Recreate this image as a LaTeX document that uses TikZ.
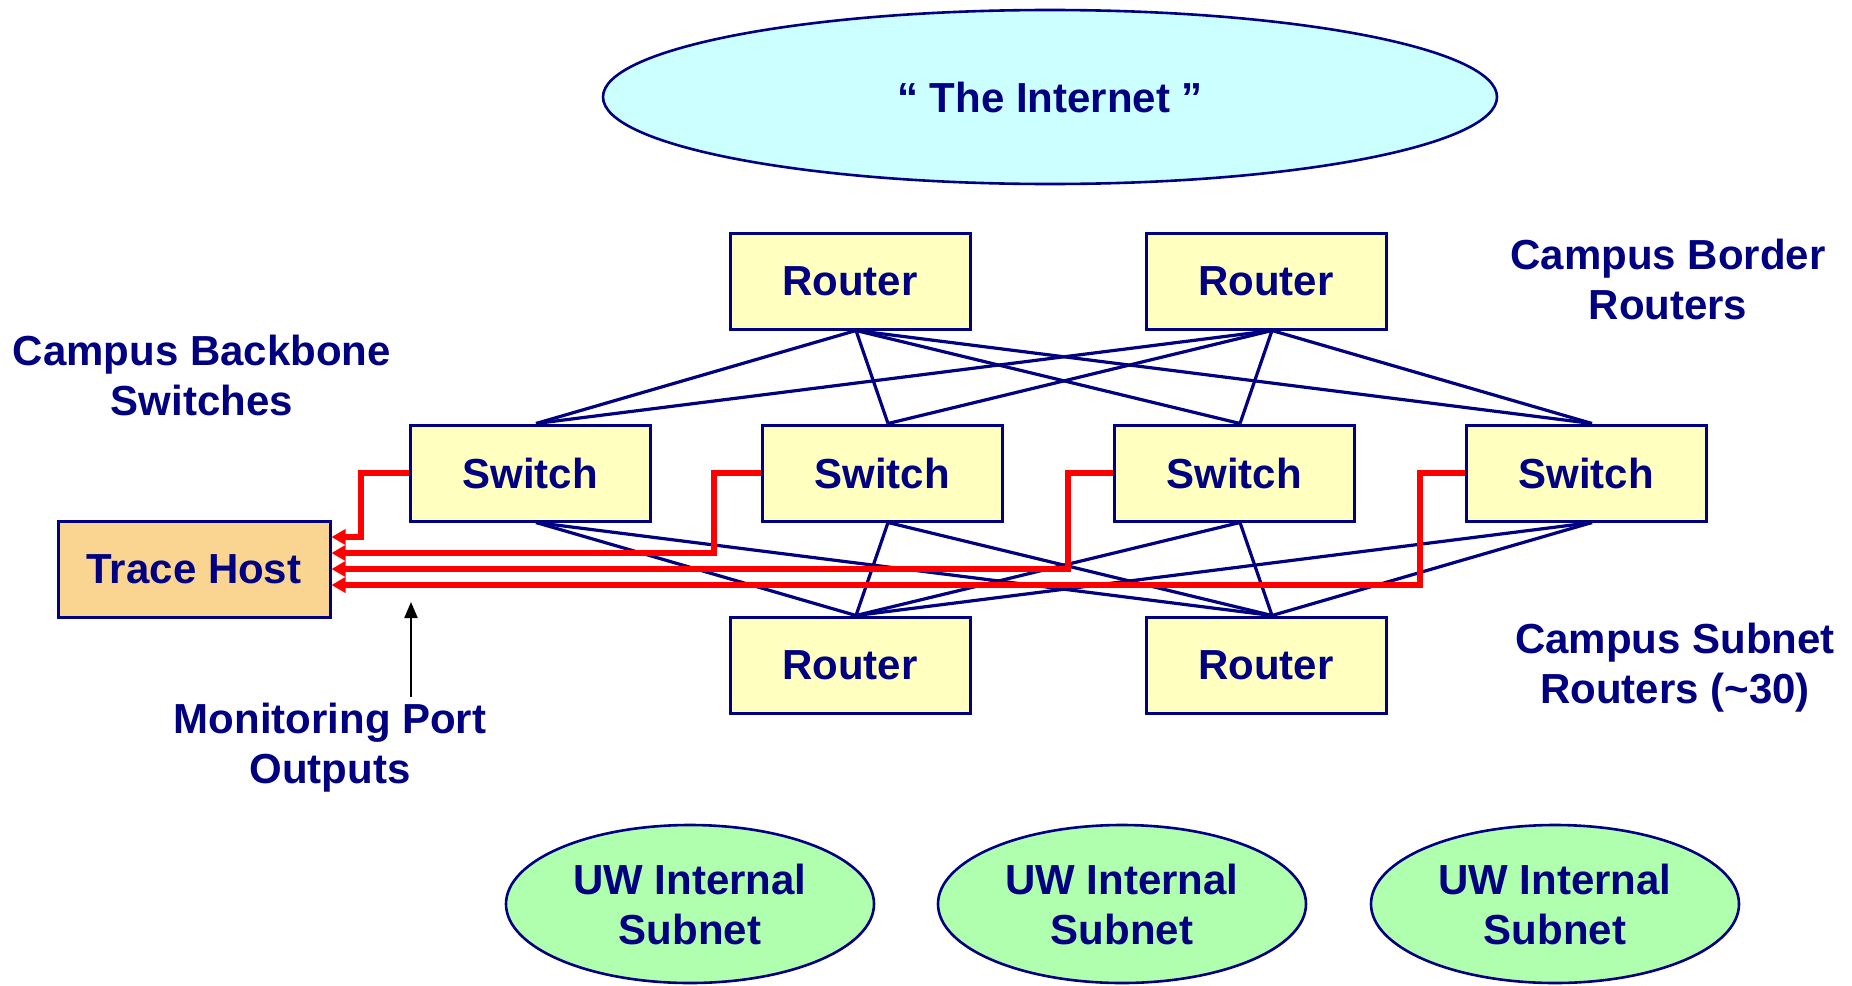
\documentclass[tikz,border=0pt]{standalone}
\usepackage{fontspec}
\setmainfont{Liberation Sans}
\usetikzlibrary{shapes.geometric,arrows.meta}
\definecolor{navy}{HTML}{000080}
\definecolor{boxfill}{HTML}{FFFFC0}
\definecolor{hostfill}{HTML}{F9D591}
\definecolor{netfill}{HTML}{CCFFFF}
\definecolor{subfill}{HTML}{AFFFAF}
\definecolor{mred}{HTML}{FF0000}
\tikzset{
  lbl/.style={text=navy,font=\fontsize{21}{25}\selectfont\bfseries,align=center,inner sep=0pt},
  devbox/.style={draw=navy,line width=1.5pt,fill=boxfill,minimum width=120pt,minimum height=48pt,inner sep=0pt,lbl},
  hostbox/.style={devbox,fill=hostfill,minimum width=136pt},
  cloud/.style={ellipse,draw=navy,line width=1.3pt,inner sep=0pt,lbl},
  link/.style={draw=navy,line width=1.6pt},
  mon/.style={draw=mred,line width=2.8pt,-{Triangle[length=7pt,width=7.5pt]}},
  pointer/.style={draw=black,line width=1.1pt,-{Triangle[length=8pt,width=6.5pt]}}
}
\begin{document}
\begin{tikzpicture}[x=0.5pt,y=-0.5pt]
\useasboundingbox (0,0) rectangle (1852,985);
% internet
\node[cloud,fill=netfill,minimum width=447pt,minimum height=87pt] (inet) at (1050,97) {“ The Internet ”};
% top routers
\node[devbox] (r1) at (850,281) {Router};
\node[devbox] (r2) at (1266,281) {Router};
% switches
\node[devbox] (s1) at (530,473) {Switch};
\node[devbox] (s2) at (882,473) {Switch};
\node[devbox] (s3) at (1234,473) {Switch};
\node[devbox] (s4) at (1586,473) {Switch};
% bottom routers
\node[devbox] (b1) at (850,665) {Router};
\node[devbox] (b2) at (1266,665) {Router};
% trace host
\node[hostbox] (th) at (194,569) {Trace Host};
% subnets
\node[cloud,fill=subfill,minimum width=184pt,minimum height=79pt] (n1) at (690,904) {UW Internal\\Subnet};
\node[cloud,fill=subfill,minimum width=184pt,minimum height=79pt] (n2) at (1122,904) {UW Internal\\Subnet};
\node[cloud,fill=subfill,minimum width=184pt,minimum height=79pt] (n3) at (1555,904) {UW Internal\\Subnet};
% labels
\node[lbl] (lborder) at (1668,279) {Campus Border\\Routers};
\node[lbl] (lbackbone) at (202,375) {Campus Backbone\\Switches};
\node[lbl] (lsubnet) at (1675,668) {Campus Subnet\\Routers (\textasciitilde30)};
\node[lbl] (lmon) at (330,748) {Monitoring Port\\Outputs};
% links top
\foreach \r in {r1,r2}{
  \foreach \s in {s1,s2,s3,s4}{
    \draw[link] ([xshift=3pt]\r.south) -- ([xshift=3pt]\s.north);
  }
}
% links bottom
\foreach \r in {b1,b2}{
  \foreach \s in {s1,s2,s3,s4}{
    \draw[link] ([xshift=3pt]\s.south) -- ([xshift=3pt]\r.north);
  }
}
% monitoring outputs
\coordinate (k1) at (361,537);
\coordinate (k2) at (714,553);
\coordinate (k3) at (1068,569);
\coordinate (k4) at (1420,585);
\draw[mon] (s1.west) -| (k1) -- (th.east |- k1);
\draw[mon] (s2.west) -| (k2) -- (th.east |- k2);
\draw[mon] (s3.west) -| (k3) -- (th.east |- k3);
\draw[mon] (s4.west) -| (k4) -- (th.east |- k4);
% pointer
\coordinate (pa) at (411,697);
\coordinate (pb) at (411,602);
\draw[pointer] (pa) -- (pb);
\end{tikzpicture}
\end{document}
